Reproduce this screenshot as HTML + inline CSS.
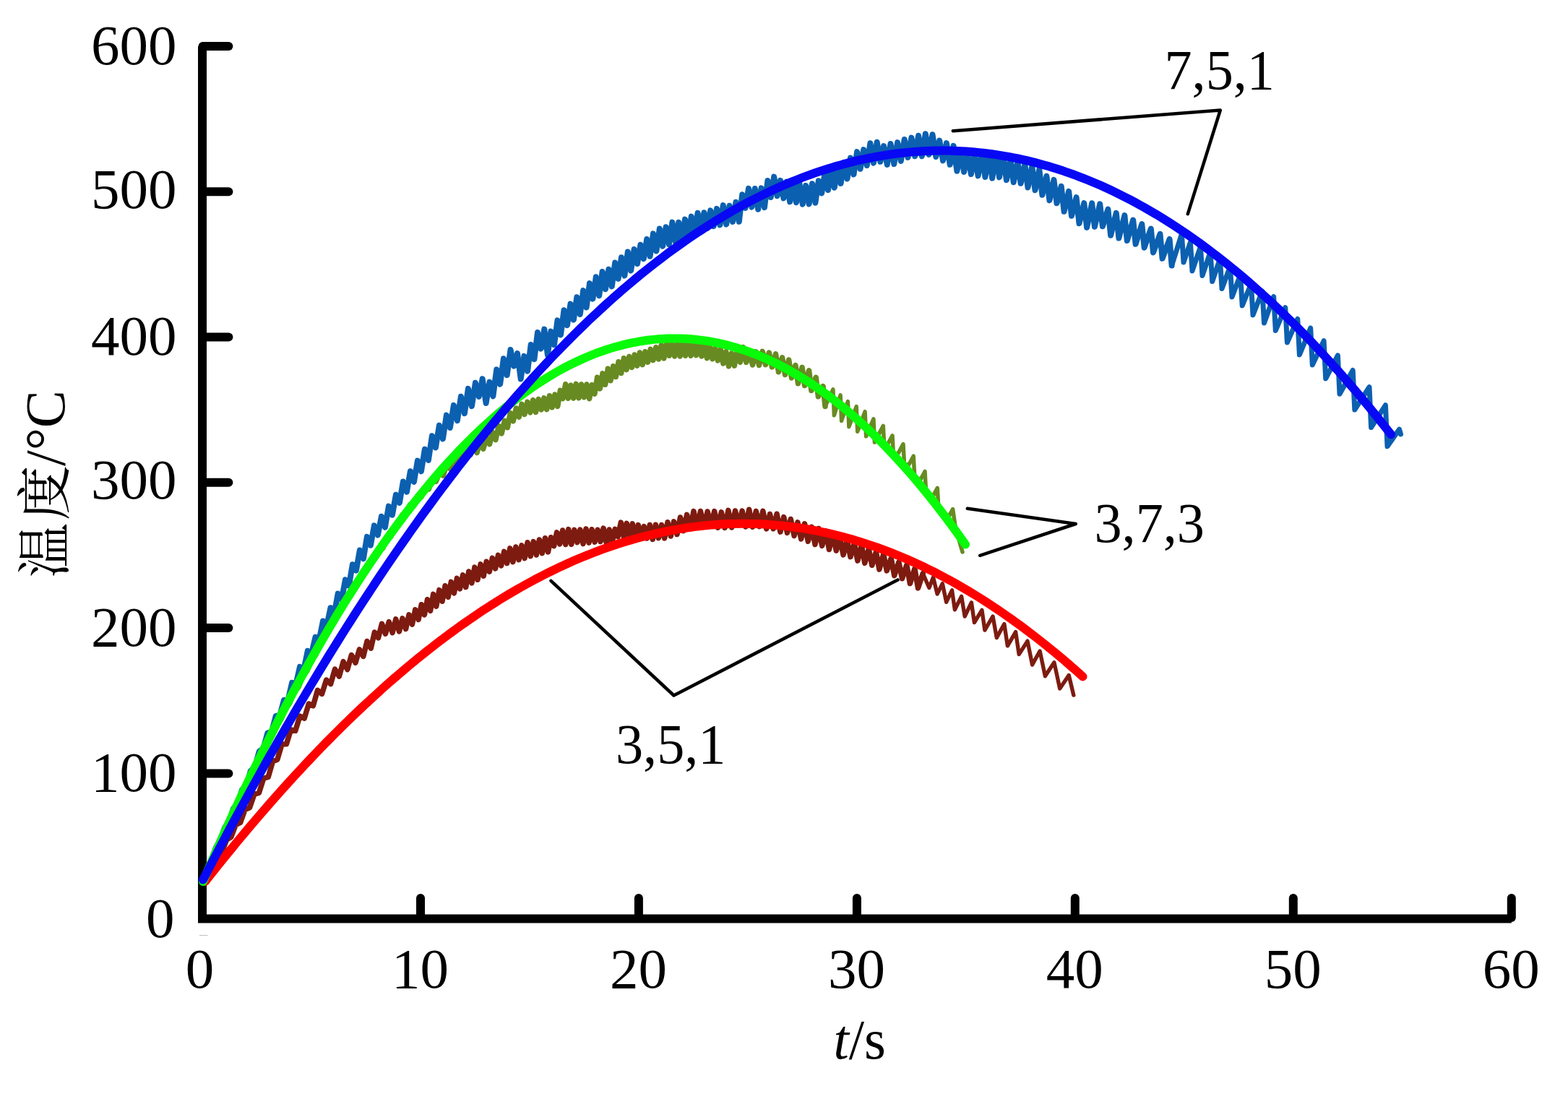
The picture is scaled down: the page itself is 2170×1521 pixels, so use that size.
<!DOCTYPE html>
<html><head><meta charset="utf-8"><title>chart</title>
<style>html,body{margin:0;padding:0;background:#fff;overflow:hidden}svg{display:block}</style></head>
<body>
<svg width="2170" height="1521" viewBox="0 0 2170 1521">
<rect width="100%" height="100%" fill="#fff"/>
<g stroke="#000" stroke-width="12" stroke-linecap="round" fill="none">
<path d="M280,64.0 V1271.6 H2091.8" stroke-linejoin="miter" stroke-linecap="butt"/>
<line x1="280.5" y1="64.0" x2="316.4" y2="64.0"/>
<line x1="280.5" y1="265.3" x2="316.4" y2="265.3"/>
<line x1="280.5" y1="466.6" x2="316.4" y2="466.6"/>
<line x1="280.5" y1="667.8" x2="316.4" y2="667.8"/>
<line x1="280.5" y1="869.1" x2="316.4" y2="869.1"/>
<line x1="280.5" y1="1070.4" x2="316.4" y2="1070.4"/>
<line x1="582.0" y1="1270" x2="582.0" y2="1243"/>
<line x1="883.9" y1="1270" x2="883.9" y2="1243"/>
<line x1="1185.9" y1="1270" x2="1185.9" y2="1243"/>
<line x1="1487.8" y1="1270" x2="1487.8" y2="1243"/>
<line x1="1789.8" y1="1270" x2="1789.8" y2="1243"/>
<line x1="2091.8" y1="1270" x2="2091.8" y2="1243"/>
</g>
<line x1="276" y1="1294.5" x2="287.5" y2="1294.5" stroke="#b8b8b8" stroke-width="0.9"/>
<path d="M281.0,1218.0 L287.0,1201.1 L293.0,1189.5 L299.0,1172.7 L305.0,1162.5 L311.0,1145.6 L317.0,1136.7 L323.0,1119.0 L329.0,1111.7 L335.0,1093.0 L341.0,1087.0 L346.9,1066.9 L352.8,1061.3 L358.7,1040.0 L364.5,1035.6 L370.3,1014.5 L376.0,1012.5 L381.7,991.0 L387.4,990.0 L393.0,968.9 L398.5,969.4 L404.1,944.8 L409.6,946.7 L415.0,922.9 L420.4,926.7 L425.8,900.9 L431.2,904.5 L436.5,881.7 L441.8,884.8 L447.0,859.5 L452.3,865.5 L457.5,841.2 L462.6,849.2 L467.7,821.6 L472.8,829.8 L477.9,802.4 L482.9,810.6 L487.9,781.2 L492.9,789.5 L497.9,761.5 L502.9,773.3 L507.9,742.9 L512.9,754.7 L517.9,727.4 L522.9,740.6 L527.9,714.8 L532.9,729.8 L537.9,700.6 L542.9,712.7 L547.9,684.8 L552.9,695.8 L557.9,666.5 L562.9,680.8 L567.9,652.2 L572.9,666.9 L577.9,637.6 L582.9,652.3 L587.9,621.7 L592.9,636.9 L597.9,603.3 L602.9,619.5 L607.9,588.7 L612.9,607.4 L617.9,574.6 L622.9,591.8 L627.9,560.9 L632.9,582.1 L637.9,548.8 L642.9,572.1 L647.9,537.9 L652.9,562.1 L657.9,529.8 L662.8,548.8 L667.7,524.3 L672.6,558.0 L677.5,528.8 L682.4,548.3 L687.2,511.4 L692.1,531.7 L696.9,496.2 L701.7,519.2 L706.5,484.0 L711.2,506.7 L716.0,489.0 L720.7,524.5 L725.4,492.9 L730.1,513.7 L734.7,477.0 L739.4,497.2 L744.0,459.9 L748.7,482.7 L753.3,455.6 L757.9,491.3 L762.4,458.6 L767.0,477.3 L771.5,443.4 L776.0,463.5 L780.5,429.2 L785.0,450.2 L789.5,420.6 L793.9,442.6 L798.3,411.3 L802.8,435.0 L807.2,402.1 L811.6,425.5 L816.0,392.1 L820.4,413.7 L824.8,383.3 L829.2,409.2 L833.6,376.0 L838.0,400.2 L842.4,372.7 L846.8,396.4 L851.2,363.5 L855.6,385.8 L860.0,356.2 L864.4,381.5 L868.8,348.5 L873.2,374.5 L877.6,345.0 L882.0,365.0 L886.4,338.7 L890.8,358.2 L895.2,331.0 L899.6,354.8 L904.0,323.4 L908.4,347.5 L912.8,316.5 L917.2,340.7 L921.6,314.2 L926.0,338.3 L930.4,307.6 L934.8,334.5 L939.2,307.8 L943.6,332.0 L948.0,303.6 L952.4,328.6 L956.8,299.6 L961.2,325.4 L965.6,294.8 L970.0,321.0 L974.4,294.2 L978.8,316.0 L983.2,291.4 L987.6,313.2 L992.0,288.9 L996.4,311.4 L1000.8,284.1 L1005.2,310.5 L1009.6,284.8 L1014.0,306.9 L1018.4,279.8 L1022.8,306.8 L1027.2,269.2 L1031.6,287.9 L1036.0,260.9 L1040.4,286.6 L1044.8,261.0 L1049.2,289.6 L1053.6,260.4 L1058.0,287.1 L1062.4,249.9 L1066.8,273.0 L1071.2,244.6 L1075.6,271.2 L1080.0,249.8 L1084.4,274.4 L1088.8,251.6 L1093.2,279.3 L1097.6,253.5 L1102.0,280.2 L1106.4,253.7 L1110.8,282.7 L1115.2,256.9 L1119.6,282.4 L1124.0,254.2 L1128.4,280.6 L1132.8,250.3 L1137.2,267.3 L1141.6,239.4 L1146.0,263.0 L1150.4,235.6 L1154.8,259.7 L1159.2,232.6 L1163.6,253.9 L1168.1,224.9 L1172.5,247.5 L1177.0,218.5 L1181.5,241.4 L1186.1,210.1 L1190.6,233.7 L1195.2,207.1 L1199.8,229.0 L1204.4,198.3 L1209.0,225.6 L1213.7,196.7 L1218.3,223.8 L1223.1,202.1 L1227.8,227.9 L1232.5,199.0 L1237.3,227.0 L1242.1,197.1 L1246.8,222.9 L1251.7,193.0 L1256.5,217.9 L1261.4,190.6 L1266.2,216.3 L1271.1,187.8 L1275.9,216.2 L1280.8,185.2 L1285.6,213.9 L1290.5,186.2 L1295.3,217.0 L1300.2,194.6 L1305.0,222.2 L1309.9,198.1 L1314.7,227.8 L1319.6,201.9 L1324.4,236.7 L1329.3,210.3 L1334.1,237.9 L1339.1,212.6 L1343.9,241.0 L1348.9,212.8 L1353.6,243.4 L1358.8,212.9 L1363.4,245.0 L1368.6,213.4 L1373.2,246.6 L1378.5,213.6 L1383.0,245.4 L1388.4,216.0 L1392.9,249.2 L1398.4,221.2 L1402.7,252.2 L1408.3,223.5 L1412.6,253.8 L1418.3,227.2 L1422.5,259.5 L1428.3,230.2 L1432.5,263.3 L1438.3,234.5 L1442.4,269.8 L1448.4,243.7 L1452.4,277.4 L1458.5,248.9 L1462.5,281.3 L1468.7,257.8 L1472.6,292.8 L1479.1,264.8 L1483.0,298.7 L1489.6,273.2 L1493.5,309.3 L1500.3,281.1 L1504.1,314.9 L1511.2,281.2 L1514.9,313.8 L1522.2,282.3 L1525.9,313.3 L1533.4,289.6 L1537.1,325.7 L1544.8,294.8 L1548.4,329.5 L1556.4,298.2 L1559.8,333.1 L1568.2,304.5 L1571.6,337.8 L1580.3,310.1 L1583.6,342.7 L1592.8,316.5 L1596.0,349.4 L1605.5,323.8 L1608.6,357.8 L1618.6,331.0 L1621.6,367.5" fill="none" stroke="#0c60b0" stroke-width="8" stroke-linejoin="round" stroke-linecap="round"/>
<path d="M1621.6,367.5 L1635.4,323.9 L1638.0,363.0 L1647.4,335.4 L1650.0,375.0 L1661.4,341.3 L1664.0,381.5 L1675.1,348.7 L1677.7,389.5 L1688.4,358.1 L1691.0,399.5 L1702.4,369.0 L1705.0,411.0 L1716.6,380.4 L1719.2,423.0 L1731.4,392.7 L1734.0,436.0 L1746.9,403.0 L1749.5,447.0 L1762.7,410.5 L1765.3,457.5 L1778.8,425.7 L1781.4,474.0 L1795.8,441.4 L1798.4,491.0 L1813.7,454.1 L1816.3,505.0 L1832.1,471.7 L1834.7,524.0 L1851.4,491.9 L1854.0,545.2 L1872.2,512.5 L1874.8,567.0 L1895.0,535.7 L1897.6,591.5 L1917.4,560.8 L1920.0,617.8 L1936.5,594.2 L1938.5,601.0" fill="none" stroke="#0c60b0" stroke-width="7.0" stroke-linejoin="round" stroke-linecap="round"/>
<path d="M281.0,1219.0 L287.0,1203.8 L293.0,1192.5 L299.0,1177.1 L305.0,1166.3 L311.0,1151.1 L317.0,1140.5 L323.0,1125.4 L329.0,1115.2 L335.0,1100.1 L341.0,1090.2 L347.0,1075.0 L353.0,1065.4 L359.0,1050.4 L365.0,1041.2 L371.0,1026.4 L377.0,1018.1 L383.0,1003.3 L389.0,995.4 L395.0,980.9 L401.0,972.9 L407.0,958.6 L413.0,950.7 L419.0,936.3 L425.0,928.3 L431.0,913.4 L437.0,905.9 L443.0,891.2 L449.0,883.6 L455.0,868.9 L461.0,862.4 L466.9,847.8 L472.9,841.9 L478.7,827.1 L484.5,822.3 L490.3,808.1 L496.1,804.7 L501.8,790.8 L507.5,788.1 L513.1,774.9 L518.7,773.7 L524.2,759.9 L529.8,758.7 L535.3,744.6 L540.7,743.0 L546.1,728.5 L551.5,727.1 L556.8,712.5 L562.2,712.7 L567.4,698.5 L572.7,699.9 L577.9,686.9 L583.0,687.8 L588.1,674.3 L593.3,676.8 L598.3,664.2 L603.3,666.3 L608.3,653.9 L613.3,658.0 L618.1,643.0 L623.0,649.0 L627.8,634.3 L632.6,641.0 L637.2,627.1 L641.9,633.9 L646.5,620.5 L651.1,629.4 L655.6,616.6 L660.0,626.6 L664.4,611.2 L668.8,621.2 L673.2,605.6 L677.5,614.7 L681.7,598.3 L685.9,608.7 L690.1,589.4 L694.2,599.9 L698.3,582.3 L702.3,591.7 L706.3,571.6 L710.3,582.8 L714.3,565.0 L718.2,577.2 L722.1,559.4 L726.0,573.5 L729.9,556.3 L733.8,570.8 L737.7,553.7 L741.5,570.4 L745.3,552.5 L749.2,566.9 L752.9,550.8 L756.7,566.6 L760.5,547.7 L764.2,563.8 L768.0,546.1 L771.7,562.4 L775.4,540.4 L779.0,551.6 L782.7,531.8 L786.4,551.3 L790.0,533.3 L793.7,551.1 L797.3,531.4 L801.0,550.8 L804.6,532.0 L808.3,549.8 L812.0,532.0 L815.6,551.7 L819.3,532.8 L822.9,545.1 L826.6,522.3 L830.3,537.9 L834.0,516.9 L837.6,532.3 L841.3,510.3 L845.0,526.8 L848.7,506.8 L852.3,521.5 L856.0,500.8 L859.7,516.5 L863.4,495.7 L867.1,511.6 L870.8,493.5 L874.5,508.4 L878.2,491.0 L881.8,506.1 L885.5,488.0 L889.2,504.7 L892.9,486.7 L896.6,501.2 L900.3,483.3 L904.0,498.5 L907.8,480.7 L911.5,497.0 L915.2,477.8 L918.9,495.9 L922.6,474.8 L926.3,492.3 L930.0,475.7 L933.7,493.0 L937.5,475.2 L941.2,493.0 L944.9,474.6 L948.6,492.3 L952.3,473.1 L956.1,492.3 L959.8,475.1 L963.5,491.7 L967.3,474.6 L971.0,493.0 L974.7,478.4 L978.5,495.7 L982.2,478.8 L986.0,496.8 L989.7,482.2 L993.4,498.9 L997.2,483.6 L1000.9,503.0 L1004.7,486.7 L1008.5,506.9 L1012.4,489.1 L1016.3,506.2 L1020.3,485.7 L1024.4,501.3 L1028.6,480.6 L1032.8,501.4 L1037.2,486.3 L1041.5,505.0 L1046.1,486.8 L1050.5,505.5 L1055.2,486.3 L1059.5,504.7 L1064.3,488.1 L1068.5,507.9 L1073.5,489.9 L1077.5,514.7 L1082.6,494.9 L1086.5,518.5 L1091.7,498.1 L1095.5,523.0 L1100.9,505.5 L1104.5,530.8 L1110.1,508.5 L1113.6,533.6 L1119.6,512.8 L1122.9,540.5 L1129.2,522.3 L1132.4,548.9 L1139.1,534.7 L1142.0,562.4" fill="none" stroke="#688a22" stroke-width="7.5" stroke-linejoin="round" stroke-linecap="round"/>
<path d="M1142.0,562.4 L1152.9,538.9 L1154.4,574.8 L1163.1,546.8 L1164.6,582.3 L1173.4,555.5 L1174.9,590.6 L1185.2,562.6 L1186.7,597.2 L1197.1,569.7 L1198.6,603.8 L1208.9,579.9 L1210.4,612.1 L1222.3,589.4 L1223.8,618.9 L1228.5,614.8 L1235.0,602.8 L1236.5,630.7 L1243.5,626.6 L1250.0,614.6 L1251.5,642.2 L1257.7,643.2 L1264.2,631.2 L1265.7,658.4 L1273.5,664.5 L1280.0,652.5 L1281.5,679.4 L1290.8,687.4 L1297.3,675.4 L1298.8,701.9 L1312.1,716.6 L1318.6,704.6 L1322.0,728.0 L1326.0,743.0 L1332.0,764.0" fill="none" stroke="#688a22" stroke-width="5.5" stroke-linejoin="round" stroke-linecap="round"/>
<path d="M283.0,1219.0 L289.0,1206.0 L295.0,1198.7 L301.1,1184.4 L307.3,1179.1 L313.5,1162.4 L319.8,1158.3 L326.2,1141.6 L332.6,1138.4 L339.0,1120.5 L345.5,1117.8 L352.0,1099.0 L358.4,1097.4 L364.8,1077.2 L371.2,1075.5 L377.5,1053.7 L383.8,1051.3 L390.1,1030.0 L396.4,1029.8 L402.6,1009.8 L408.8,1011.3 L415.0,991.1 L421.2,994.1 L427.3,974.0 L433.4,976.8 L439.5,955.3 L445.5,960.4 L451.6,941.1 L457.6,946.6 L463.5,926.2 L469.4,936.0 L475.1,915.7 L480.8,926.6 L486.4,906.5 L492.0,917.2 L497.4,898.8 L502.8,908.4 L508.0,887.5 L513.3,897.1 L518.4,875.1 L523.5,882.8 L528.5,863.3 L533.4,877.2 L538.3,860.6 L543.1,875.7 L547.8,856.9 L552.5,873.9 L557.0,855.9 L561.6,870.5 L566.0,850.8 L570.4,864.2 L574.7,843.9 L579.1,857.4 L583.2,836.7 L587.4,850.9 L591.5,829.7 L595.6,845.3 L599.7,822.4 L603.8,839.1 L607.9,816.6 L612.0,832.3 L616.1,810.7 L620.2,826.4 L624.3,805.4 L628.4,820.9 L632.4,800.4 L636.5,814.9 L640.6,795.9 L644.7,812.5 L648.8,791.0 L652.9,806.9 L656.9,785.1 L661.0,802.3 L665.1,780.9 L669.2,797.2 L673.2,777.3 L677.3,791.1 L681.4,772.4 L685.5,786.9 L689.5,768.4 L693.6,782.9 L697.7,763.4 L701.7,779.5 L705.8,758.9 L709.9,777.6 L713.9,757.0 L718.0,774.7 L722.0,754.9 L726.1,772.6 L730.1,750.8 L734.2,769.7 L738.3,749.6 L742.3,768.0 L746.4,747.0 L750.4,765.6 L754.5,744.7 L758.5,763.9 L762.5,743.7 L766.6,755.6 L770.6,736.8 L774.7,752.9 L778.7,734.0 L782.8,753.5 L786.8,732.6 L790.8,753.2 L794.9,733.4 L798.9,750.7 L802.9,733.1 L807.0,752.6 L811.0,732.0 L815.0,751.1 L819.0,732.7 L823.1,750.2 L827.1,733.2 L831.1,749.5 L835.1,731.1 L839.2,751.0 L843.2,733.0 L847.2,750.1 L851.2,732.3 L855.2,742.7 L859.3,723.1 L863.3,742.9 L867.3,724.4 L871.3,742.7 L875.3,724.9 L879.3,745.6 L883.3,726.6 L887.3,744.2 L891.3,728.6 L895.3,745.0 L899.3,726.5 L903.3,746.4 L907.4,726.2 L911.4,744.7 L915.6,726.5 L919.7,744.9 L924.0,722.7 L928.3,742.0 L932.6,721.8 L937.0,739.5 L941.5,716.0 L946.0,734.6 L950.6,712.4 L955.2,731.9 L960.0,707.6 L964.7,730.0 L969.5,707.5 L974.3,729.0 L979.1,708.0 L983.9,727.9 L988.7,707.6 L993.5,730.3 L998.3,708.9 L1003.1,730.4 L1007.9,706.4 L1012.7,730.0 L1017.5,707.0 L1022.3,726.8 L1027.1,707.1 L1031.9,729.0 L1036.7,705.2 L1041.5,729.2 L1046.3,707.5 L1051.1,728.7 L1055.9,707.4 L1060.7,731.9 L1065.5,711.5 L1070.3,731.8 L1075.1,711.2 L1079.9,736.1 L1084.7,715.6 L1089.5,737.4 L1094.3,718.5 L1099.1,741.6 L1103.9,722.9 L1108.7,745.9 L1113.6,724.9 L1118.3,749.2 L1123.3,729.4 L1128.0,753.5 L1133.0,731.5 L1137.7,755.4 L1142.8,734.8 L1147.5,760.5 L1152.6,739.0 L1157.3,762.1 L1162.4,745.1 L1167.1,767.9 L1172.3,747.7 L1177.0,770.7 L1182.3,751.9 L1186.9,776.0 L1192.3,754.5 L1196.8,779.3 L1202.3,759.8 L1206.8,782.3 L1212.4,763.9 L1216.9,788.0 L1222.7,766.9 L1227.2,789.9 L1233.2,772.8 L1237.7,796.6 L1243.9,777.9 L1248.5,800.7 L1254.8,781.9 L1259.4,807.5 L1265.9,787.0 L1270.5,813.9 L1277.2,793.7" fill="none" stroke="#7d1b10" stroke-width="7.5" stroke-linejoin="round" stroke-linecap="round"/>
<path d="M1277.2,793.7 L1285.9,813.5 L1291.5,799.0 L1297.1,822.1 L1304.3,807.6 L1309.6,833.3 L1317.5,816.8 L1321.4,843.8 L1330.6,825.4 L1335.2,853.0 L1344.4,833.9 L1348.4,861.5 L1358.9,844.4 L1362.9,872.1 L1374.0,853.0 L1379.3,882.6 L1389.8,863.5 L1394.4,893.8 L1405.6,874.7 L1410.2,905.6 L1422.0,887.2 L1428.6,920.0 L1439.1,901.0 L1446.4,935.8 L1458.9,916.8 L1466.7,952.9 L1479.2,934.5 L1485.8,962.1" fill="none" stroke="#7d1b10" stroke-width="5.4" stroke-linejoin="round" stroke-linecap="round"/>
<path d="M284.0,1220.0 L290.0,1212.4 L296.0,1204.8 L302.0,1197.3 L308.0,1189.8 L314.0,1182.4 L320.0,1175.1 L326.0,1167.8 L332.0,1160.5 L338.0,1153.3 L344.0,1146.2 L350.0,1139.1 L356.0,1132.1 L362.0,1125.1 L368.0,1118.2 L374.0,1111.3 L380.0,1104.5 L386.0,1097.7 L392.0,1091.0 L398.0,1084.4 L404.0,1077.8 L410.0,1071.2 L416.0,1064.8 L422.0,1058.3 L428.0,1052.0 L434.0,1045.7 L440.0,1039.4 L446.0,1033.2 L452.0,1027.0 L458.0,1021.0 L464.0,1014.9 L470.0,1009.0 L476.0,1003.0 L482.0,997.2 L488.0,991.4 L494.0,985.6 L500.0,980.0 L506.0,974.3 L512.0,968.8 L518.0,963.3 L524.0,957.8 L530.0,952.4 L536.0,947.1 L542.0,941.8 L548.0,936.6 L554.0,931.5 L560.0,926.4 L566.0,921.3 L572.0,916.4 L578.0,911.4 L584.0,906.6 L590.0,901.8 L596.0,897.1 L602.0,892.4 L608.0,887.8 L614.0,883.3 L620.0,878.8 L626.0,874.4 L632.0,870.0 L638.0,865.7 L644.0,861.5 L650.0,857.3 L656.0,853.2 L662.0,849.1 L668.0,845.1 L674.0,841.2 L680.0,837.4 L686.0,833.6 L692.0,829.8 L698.0,826.1 L704.0,822.5 L710.0,819.0 L716.0,815.5 L722.0,812.1 L728.0,808.7 L734.0,805.5 L740.0,802.2 L746.0,799.1 L752.0,796.0 L758.0,792.9 L764.0,790.0 L770.0,787.1 L776.0,784.2 L782.0,781.5 L788.0,778.7 L794.0,776.1 L800.0,773.5 L806.0,771.0 L812.0,768.6 L818.0,766.2 L824.0,763.9 L830.0,761.6 L836.0,759.4 L842.0,757.3 L848.0,755.3 L854.0,753.3 L860.0,751.3 L866.0,749.5 L872.0,747.7 L878.0,746.0 L884.0,744.3 L890.0,742.7 L896.0,741.2 L902.0,739.8 L908.0,738.4 L914.0,737.1 L920.0,735.8 L926.0,734.6 L932.0,733.5 L938.0,732.4 L944.0,731.5 L950.0,730.5 L956.0,729.7 L962.0,728.9 L968.0,728.2 L974.0,727.5 L980.0,727.0 L986.0,726.4 L992.0,726.0 L998.0,725.6 L1004.0,725.3 L1010.0,725.1 L1016.0,724.9 L1022.0,724.8 L1028.0,724.8 L1034.0,724.8 L1040.0,724.9 L1046.0,725.1 L1052.0,725.3 L1058.0,725.6 L1064.0,726.0 L1070.0,726.4 L1076.0,726.9 L1082.0,727.5 L1088.0,728.2 L1094.0,728.9 L1100.0,729.7 L1106.0,730.5 L1112.0,731.4 L1118.0,732.4 L1124.0,733.5 L1130.0,734.6 L1136.0,735.8 L1142.0,737.1 L1148.0,738.4 L1154.0,739.8 L1160.0,741.3 L1166.0,742.9 L1172.0,744.5 L1178.0,746.1 L1184.0,747.9 L1190.0,749.7 L1196.0,751.6 L1202.0,753.6 L1208.0,755.6 L1214.0,757.7 L1220.0,759.9 L1226.0,762.1 L1232.0,764.4 L1238.0,766.8 L1244.0,769.2 L1250.0,771.7 L1256.0,774.3 L1262.0,777.0 L1268.0,779.7 L1274.0,782.5 L1280.0,785.3 L1286.0,788.3 L1292.0,791.2 L1298.0,794.3 L1304.0,797.5 L1310.0,800.7 L1316.0,803.9 L1322.0,807.3 L1328.0,810.7 L1334.0,814.2 L1340.0,817.7 L1346.0,821.3 L1352.0,825.0 L1358.0,828.8 L1364.0,832.6 L1370.0,836.5 L1376.0,840.5 L1382.0,844.5 L1388.0,848.6 L1394.0,852.8 L1400.0,857.0 L1406.0,861.3 L1412.0,865.7 L1418.0,870.1 L1424.0,874.7 L1430.0,879.2 L1436.0,883.9 L1442.0,888.6 L1448.0,893.4 L1454.0,898.3 L1460.0,903.2 L1466.0,908.2 L1472.0,913.2 L1478.0,918.4 L1484.0,923.6 L1490.0,928.8 L1496.0,934.2 L1498.5,936.4" fill="none" stroke="#ff0000" stroke-width="12" stroke-linejoin="round" stroke-linecap="round"/>
<path d="M281.0,1220.1 L287.0,1206.2 L293.0,1192.4 L299.0,1178.7 L305.0,1165.2 L311.0,1151.8 L317.0,1138.5 L323.0,1125.4 L329.0,1112.4 L335.0,1099.5 L341.0,1086.8 L347.0,1074.2 L353.0,1061.8 L359.0,1049.4 L365.0,1037.2 L371.0,1025.2 L377.0,1013.3 L383.0,1001.5 L389.0,989.8 L395.0,978.3 L401.0,966.9 L407.0,955.6 L413.0,944.5 L419.0,933.5 L425.0,922.6 L431.0,911.9 L437.0,901.3 L443.0,890.8 L449.0,880.5 L455.0,870.3 L461.0,860.2 L467.0,850.2 L473.0,840.4 L479.0,830.7 L485.0,821.2 L491.0,811.7 L497.0,802.5 L503.0,793.3 L509.0,784.2 L515.0,775.3 L521.0,766.6 L527.0,757.9 L533.0,749.4 L539.0,741.0 L545.0,732.7 L551.0,724.6 L557.0,716.6 L563.0,708.7 L569.0,701.0 L575.0,693.4 L581.0,685.9 L587.0,678.5 L593.0,671.3 L599.0,664.2 L605.0,657.2 L611.0,650.3 L617.0,643.6 L623.0,637.0 L629.0,630.6 L635.0,624.2 L641.0,618.0 L647.0,611.9 L653.0,606.0 L659.0,600.1 L665.0,594.4 L671.0,588.8 L677.0,583.4 L683.0,578.1 L689.0,572.9 L695.0,567.8 L701.0,562.9 L707.0,558.1 L713.0,553.4 L719.0,548.8 L725.0,544.4 L731.0,540.1 L737.0,535.9 L743.0,531.8 L749.0,527.9 L755.0,524.1 L761.0,520.4 L767.0,516.8 L773.0,513.4 L779.0,510.1 L785.0,506.9 L791.0,503.9 L797.0,501.0 L803.0,498.2 L809.0,495.5 L815.0,493.0 L821.0,490.5 L827.0,488.2 L833.0,486.1 L839.0,484.0 L845.0,482.1 L851.0,480.3 L857.0,478.7 L863.0,477.1 L869.0,475.7 L875.0,474.4 L881.0,473.3 L887.0,472.2 L893.0,471.3 L899.0,470.5 L905.0,469.9 L911.0,469.3 L917.0,468.9 L923.0,468.6 L929.0,468.5 L935.0,468.4 L941.0,468.5 L947.0,468.8 L953.0,469.1 L959.0,469.6 L965.0,470.2 L971.0,470.9 L977.0,471.7 L983.0,472.7 L989.0,473.8 L995.0,475.0 L1001.0,476.4 L1007.0,477.9 L1013.0,479.5 L1019.0,481.2 L1025.0,483.1 L1031.0,485.0 L1037.0,487.1 L1043.0,489.4 L1049.0,491.7 L1055.0,494.2 L1061.0,496.8 L1067.0,499.6 L1073.0,502.4 L1079.0,505.4 L1085.0,508.6 L1091.0,511.8 L1097.0,515.2 L1103.0,518.7 L1109.0,522.3 L1115.0,526.0 L1121.0,529.9 L1127.0,533.9 L1133.0,538.1 L1139.0,542.3 L1145.0,546.7 L1151.0,551.2 L1157.0,555.9 L1163.0,560.6 L1169.0,565.5 L1175.0,570.6 L1181.0,575.7 L1187.0,581.0 L1193.0,586.4 L1199.0,591.9 L1205.0,597.6 L1211.0,603.4 L1217.0,609.3 L1223.0,615.4 L1229.0,621.6 L1235.0,627.9 L1241.0,634.3 L1247.0,640.9 L1253.0,647.6 L1259.0,654.4 L1265.0,661.3 L1271.0,668.4 L1277.0,675.6 L1283.0,683.0 L1289.0,690.4 L1295.0,698.0 L1301.0,705.8 L1307.0,713.6 L1313.0,721.6 L1319.0,729.8 L1325.0,738.0 L1331.0,746.4 L1336.0,753.5" fill="none" stroke="#08fb08" stroke-width="12" stroke-linejoin="round" stroke-linecap="round"/>
<path d="M281.0,1217.6 L287.0,1206.0 L293.0,1194.4 L299.0,1183.0 L305.0,1171.5 L311.0,1160.2 L317.0,1148.9 L323.0,1137.7 L329.0,1126.6 L335.0,1115.5 L341.0,1104.5 L347.0,1093.5 L353.0,1082.6 L359.0,1071.8 L365.0,1061.0 L371.0,1050.3 L377.0,1039.7 L383.0,1029.2 L389.0,1018.7 L395.0,1008.2 L401.0,997.9 L407.0,987.6 L413.0,977.3 L419.0,967.2 L425.0,957.1 L431.0,947.0 L437.0,937.1 L443.0,927.2 L449.0,917.3 L455.0,907.5 L461.0,897.8 L467.0,888.2 L473.0,878.6 L479.0,869.1 L485.0,859.7 L491.0,850.3 L497.0,841.0 L503.0,831.7 L509.0,822.6 L515.0,813.5 L521.0,804.4 L527.0,795.4 L533.0,786.5 L539.0,777.7 L545.0,768.9 L551.0,760.2 L557.0,751.5 L563.0,743.0 L569.0,734.4 L575.0,726.0 L581.0,717.6 L587.0,709.3 L593.0,701.1 L599.0,692.9 L605.0,684.8 L611.0,676.7 L617.0,668.8 L623.0,660.8 L629.0,653.0 L635.0,645.2 L641.0,637.5 L647.0,629.9 L653.0,622.3 L659.0,614.8 L665.0,607.4 L671.0,600.0 L677.0,592.7 L683.0,585.4 L689.0,578.3 L695.0,571.2 L701.0,564.1 L707.0,557.2 L713.0,550.3 L719.0,543.4 L725.0,536.7 L731.0,530.0 L737.0,523.3 L743.0,516.8 L749.0,510.3 L755.0,503.9 L761.0,497.5 L767.0,491.2 L773.0,485.0 L779.0,478.8 L785.0,472.7 L791.0,466.7 L797.0,460.8 L803.0,454.9 L809.0,449.1 L815.0,443.3 L821.0,437.7 L827.0,432.1 L833.0,426.5 L839.0,421.0 L845.0,415.6 L851.0,410.3 L857.0,405.0 L863.0,399.8 L869.0,394.7 L875.0,389.7 L881.0,384.7 L887.0,379.7 L893.0,374.9 L899.0,370.1 L905.0,365.4 L911.0,360.7 L917.0,356.2 L923.0,351.6 L929.0,347.2 L935.0,342.8 L941.0,338.5 L947.0,334.3 L953.0,330.1 L959.0,326.0 L965.0,322.0 L971.0,318.1 L977.0,314.2 L983.0,310.4 L989.0,306.6 L995.0,302.9 L1001.0,299.3 L1007.0,295.8 L1013.0,292.3 L1019.0,288.9 L1025.0,285.6 L1031.0,282.3 L1037.0,279.1 L1043.0,276.0 L1049.0,273.0 L1055.0,270.0 L1061.0,267.1 L1067.0,264.2 L1073.0,261.5 L1079.0,258.8 L1085.0,256.1 L1091.0,253.6 L1097.0,251.1 L1103.0,248.7 L1109.0,246.3 L1115.0,244.0 L1121.0,241.8 L1127.0,239.7 L1133.0,237.6 L1139.0,235.6 L1145.0,233.7 L1151.0,231.9 L1157.0,230.1 L1163.0,228.4 L1169.0,226.7 L1175.0,225.1 L1181.0,223.6 L1187.0,222.2 L1193.0,220.9 L1199.0,219.6 L1205.0,218.3 L1211.0,217.2 L1217.0,216.1 L1223.0,215.1 L1229.0,214.2 L1235.0,213.3 L1241.0,212.5 L1247.0,211.8 L1253.0,211.2 L1259.0,210.6 L1265.0,210.1 L1271.0,209.7 L1277.0,209.3 L1283.0,209.0 L1289.0,208.8 L1295.0,208.6 L1301.0,208.6 L1307.0,208.6 L1313.0,208.6 L1319.0,208.8 L1325.0,209.0 L1331.0,209.3 L1337.0,209.6 L1343.0,210.0 L1349.0,210.5 L1355.0,211.1 L1361.0,211.8 L1367.0,212.5 L1373.0,213.3 L1379.0,214.1 L1385.0,215.1 L1391.0,216.1 L1397.0,217.1 L1403.0,218.3 L1409.0,219.5 L1415.0,220.8 L1421.0,222.2 L1427.0,223.6 L1433.0,225.1 L1439.0,226.7 L1445.0,228.4 L1451.0,230.1 L1457.0,231.9 L1463.0,233.8 L1469.0,235.7 L1475.0,237.8 L1481.0,239.9 L1487.0,242.0 L1493.0,244.3 L1499.0,246.6 L1505.0,249.0 L1511.0,251.5 L1517.0,254.0 L1523.0,256.6 L1529.0,259.3 L1535.0,262.0 L1541.0,264.9 L1547.0,267.8 L1553.0,270.8 L1559.0,273.8 L1565.0,276.9 L1571.0,280.1 L1577.0,283.4 L1583.0,286.7 L1589.0,290.2 L1595.0,293.7 L1601.0,297.2 L1607.0,300.9 L1613.0,304.6 L1619.0,308.4 L1625.0,312.2 L1631.0,316.2 L1637.0,320.2 L1643.0,324.3 L1649.0,328.5 L1655.0,332.7 L1661.0,337.0 L1667.0,341.4 L1673.0,345.8 L1679.0,350.4 L1685.0,355.0 L1691.0,359.7 L1697.0,364.4 L1703.0,369.3 L1709.0,374.2 L1715.0,379.2 L1721.0,384.2 L1727.0,389.4 L1733.0,394.6 L1739.0,399.9 L1745.0,405.2 L1751.0,410.6 L1757.0,416.2 L1763.0,421.7 L1769.0,427.4 L1775.0,433.1 L1781.0,439.0 L1787.0,444.8 L1793.0,450.8 L1799.0,456.8 L1805.0,463.0 L1811.0,469.1 L1817.0,475.4 L1823.0,481.8 L1829.0,488.2 L1835.0,494.7 L1841.0,501.2 L1847.0,507.9 L1853.0,514.6 L1859.0,521.4 L1865.0,528.3 L1871.0,535.2 L1877.0,542.2 L1883.0,549.3 L1889.0,556.5 L1895.0,563.8 L1901.0,571.1 L1907.0,578.5 L1913.0,586.0 L1919.0,593.6 L1925.0,601.2" fill="none" stroke="#0808f4" stroke-width="12" stroke-linejoin="round" stroke-linecap="round"/>
<g stroke="#000" stroke-width="4.5" stroke-linecap="round" stroke-linejoin="round" fill="none">
<path d="M1318.8,181.2 L1688.8,152.5 L1643.8,296.2"/>
<path d="M1338.8,703.8 L1488.8,725 L1356.2,768.8"/>
<path d="M762.5,803.8 L932.5,962.5 L1242.5,802.5"/>
</g>
<g font-family="'Liberation Serif', serif" font-size="79" fill="#000">
<text x="241.4" y="1297.2" text-anchor="end">0</text>
<text x="244.5" y="1095.4" text-anchor="end">100</text>
<text x="244.5" y="894.1" text-anchor="end">200</text>
<text x="244.5" y="690.1" text-anchor="end">300</text>
<text x="244.5" y="490.8" text-anchor="end">400</text>
<text x="244.5" y="287.9" text-anchor="end">500</text>
<text x="244.5" y="89.2" text-anchor="end">600</text>
<text x="276.4" y="1367.2" text-anchor="middle">0</text>
<text x="581.5" y="1367.2" text-anchor="middle">10</text>
<text x="883.4" y="1367.2" text-anchor="middle">20</text>
<text x="1185.4" y="1367.2" text-anchor="middle">30</text>
<text x="1487.3" y="1367.2" text-anchor="middle">40</text>
<text x="1789.3" y="1367.2" text-anchor="middle">50</text>
<text x="2091.3" y="1367.2" text-anchor="middle">60</text>
<text transform="translate(1611.5,122.5) scale(0.965,1)">7,5,1</text>
<text transform="translate(1514.5,749.8) scale(0.965,1)">3,7,3</text>
<text transform="translate(852,1056.3) scale(0.965,1)">3,5,1</text>
<text transform="translate(1153.5,1464.5) scale(0.97,1)"><tspan font-style="italic">t</tspan>/s</text>
<g transform="translate(89,797) rotate(-90)">
<text x="-2.7 77" y="0" font-size="76" font-family="'Liberation Serif', 'Noto Serif CJK SC', serif">温度</text>
<text x="152" y="0" font-size="78">/&#176;C</text>
</g>
</g>
</svg>
</body></html>
